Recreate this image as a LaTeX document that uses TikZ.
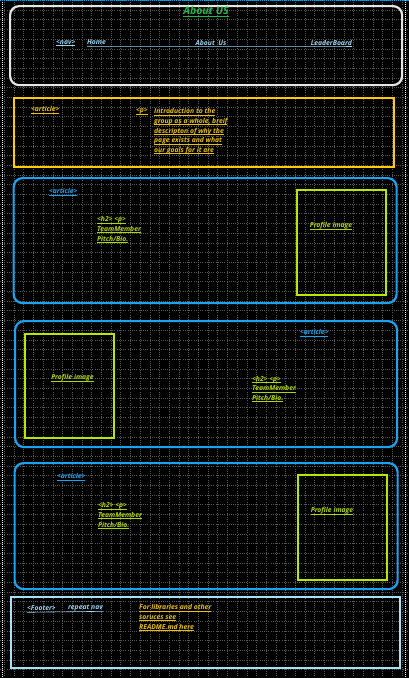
\documentclass[tikz,border=0pt]{standalone}
\usepackage{fontspec}
\newfontfamily\uifont{Open Sans}
\definecolor{hdrgreen}{HTML}{22B84A}
\definecolor{navblue}{HTML}{9AD4F0}
\definecolor{gold}{HTML}{FFCC00}
\definecolor{goldtxt}{HTML}{EAC000}
\definecolor{artblue}{HTML}{1AA3F0}
\definecolor{lime}{HTML}{B8E800}
\definecolor{limetxt}{HTML}{B0D800}
\definecolor{foot}{HTML}{A6E2F6}
\definecolor{gridc}{HTML}{585858}
\newcommand\ulx[1]{\setbox0\hbox{#1}\rlap{\rule[-1.4pt]{\wd0}{0.55pt}}\box0}
\tikzset{
  lbl/.style={font=\uifont\bfseries\itshape\fontsize{6.8}{9.6}\selectfont, inner sep=0pt, align=left},
  boxw/.style={draw=#1, line width=2.2pt, rounded corners=9pt, inner sep=0pt},
  boxs/.style={draw=#1, line width=2.2pt, inner sep=0pt},
}
\begin{document}
\begin{tikzpicture}[x=1pt,y=-1pt]
\useasboundingbox (0,0) rectangle (409,678);
\fill[black] (0,0) rectangle (409,678);
% grid
\foreach \i in {0,...,41} {
  \draw[gridc, line width=0.5pt, dash pattern=on 0.7pt off 1.5pt] ({4.3+9.7*\i},0) -- ({4.3+9.7*\i},678);
}
\foreach \j in {0,...,70} {
  \draw[gridc, line width=0.5pt, dash pattern=on 0.7pt off 1.5pt] (0,{0.3+9.7*\j}) -- (409,{0.3+9.7*\j});
}
% page edges
\draw[white, line width=0.8pt, dash pattern=on 1pt off 1pt] (2.5,0) -- (2.5,678);
\draw[white, line width=0.8pt, dash pattern=on 1pt off 1pt] (405.5,0) -- (405.5,678);
\draw[cyan, line width=1pt, dash pattern=on 1pt off 1pt] (0,0.8) -- (409,0.8);

% header
\node[boxw={white!80!gray}, minimum width=392pt, minimum height=79pt, anchor=north west] (header) at (9,5) {};
\node[lbl, text=hdrgreen, font=\uifont\bfseries\itshape\fontsize{10.5}{12}\selectfont] (title) at (206,11.5) {\ulx{About US}};
\node[lbl, text=navblue, anchor=west] (nav) at (56,43) {\ulx{<nav>}};
\node[lbl, text=navblue, anchor=west] (home) at (87,42.5) {Home};
\node[lbl, text=navblue] (about) at (211,42.5) {About\ \ Us};
\node[lbl, text=navblue, anchor=east] (leader) at (352,42.5) {LeaderBoard};
\draw[navblue, line width=0.6pt] ([yshift=-1.4pt]home.base west) -- ([yshift=-1.4pt]leader.base east);

% intro
\node[boxs=gold, minimum width=380pt, minimum height=69pt, anchor=north west] (intro) at (12.5,96.5) {};
\node[lbl, text=goldtxt, anchor=west] (introtag) at (31,110) {\ulx{<article>}};
\node[lbl, text=goldtxt, anchor=north west] (ptag) at (136,108.5) {\ulx{<p>}};
\node[lbl, text=goldtxt, anchor=north west] (introtext) at (154,108.5) {\ulx{Introduction to the}\\\ulx{group as a whole, breif}\\\ulx{descripton of why the}\\\ulx{page exists and what}\\\ulx{our goals for it are}};

% article 1
\node[boxw=artblue, minimum width=383pt, minimum height=125pt, anchor=north west] (art1) at (12.5,177) {};
\node[lbl, text=artblue, anchor=west] (art1tag) at (49,192) {\ulx{<article>}};
\node[lbl, text=limetxt, anchor=north west] (art1text) at (97,216.5) {\ulx{<h2> <p>}\\\ulx{TeamMember}\\\ulx{Pitch/Bio.}};
\node[boxs=lime, minimum width=89pt, minimum height=105pt, anchor=north west] (img1) at (295.5,188.5) {};
\node[lbl, text=limetxt] (img1text) at (331,226) {\ulx{Profile image}};

% article 2
\node[boxw=artblue, minimum width=382pt, minimum height=126pt, anchor=north west] (art2) at (14,320) {};
\node[lbl, text=artblue, anchor=west] (art2tag) at (300,333) {\ulx{<article>}};
\node[boxs=lime, minimum width=89pt, minimum height=104pt, anchor=north west] (img2) at (23.5,332.5) {};
\node[lbl, text=limetxt] (img2text) at (72.5,378) {\ulx{Profile image}};
\node[lbl, text=limetxt, anchor=north west] (art2text) at (252,376) {\ulx{<h2> <p>}\\\ulx{TeamMember}\\\ulx{Pitch/Bio.}};

% article 3
\node[boxw=artblue, minimum width=383pt, minimum height=126pt, anchor=north west] (art3) at (13.5,462) {};
\node[lbl, text=artblue, anchor=west] (art3tag) at (57,477) {\ulx{<article>}};
\node[lbl, text=limetxt, anchor=north west] (art3text) at (98,502.5) {\ulx{<h2> <p>}\\\ulx{TeamMember}\\\ulx{Pitch/Bio.}};
\node[boxs=lime, minimum width=89pt, minimum height=105pt, anchor=north west] (img3) at (296.5,473.5) {};
\node[lbl, text=limetxt] (img3text) at (332,511) {\ulx{Profile image}};

% footer
\node[boxs=foot, minimum width=389pt, minimum height=71pt, anchor=north west] (footer) at (9.5,596) {};
\node[lbl, text=navblue, anchor=west] (foottag) at (27,608.5) {<Footer>};
\node[lbl, text=navblue, anchor=east] (repeat) at (103,608.5) {repeat nav};
\draw[navblue, line width=0.6pt] ([yshift=-1.4pt]foottag.base west) -- ([yshift=-1.4pt]repeat.base east);
\node[lbl, text=goldtxt, anchor=north west] (foottext) at (139,604.5) {\ulx{For libraries and other}\\\ulx{soruces see}\\\ulx{README.md here}};
\end{tikzpicture}
\end{document}
